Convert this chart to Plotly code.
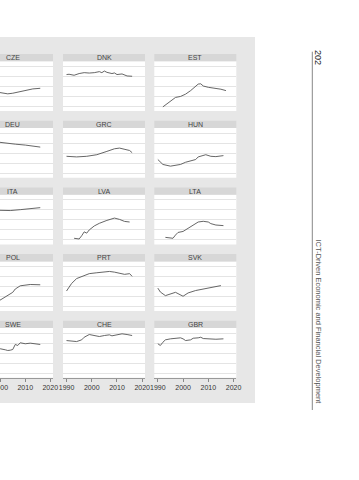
import plotly.graph_objects as go

# ---------------- data ----------------
countries = ["CZE", "DNK", "EST",
             "DEU", "GRC", "HUN",
             "ITA", "LVA", "LTA",
             "POL", "PRT", "SVK",
             "SWE", "CHE", "GBR"]

cze_x = [1999, 2001, 2003, 2005, 2008, 2011, 2013, 2016]
cze_y = [1.42, 1.35, 1.26, 1.32, 1.48, 1.62, 1.75, 1.81]

dnk_x = [1990, 1991, 1993, 1995, 1997, 1999, 2001, 2002, 2003, 2004, 2005, 2006, 2008, 2009, 2010, 2012, 2013, 2014, 2016]
dnk_y = [3.18, 3.21, 3.11, 3.28, 3.37, 3.33, 3.37, 3.40, 3.47, 3.37, 3.53, 3.40, 3.28, 3.34, 3.18, 3.24, 3.14, 3.04, 3.01]

est_x = [1992, 1993, 1995, 1996, 1997, 1999, 2001, 2003, 2005, 2006, 2007, 2008, 2010, 2013, 2015, 2017]
est_y = [-0.04, 0.16, 0.51, 0.74, 0.90, 1.00, 1.23, 1.58, 1.97, 2.23, 2.26, 2.04, 1.91, 1.81, 1.72, 1.58]

deu_x = [1999, 2002, 2006, 2010, 2012, 2016]
deu_y = [3.10, 2.99, 2.89, 2.80, 2.75, 2.60]

grc_x = [1990, 1994, 1998, 2002, 2006, 2009, 2011, 2013, 2015, 2016]
grc_y = [1.68, 1.62, 1.68, 1.84, 2.17, 2.43, 2.50, 2.40, 2.26, 2.04]

hun_x = [1990, 1992, 1995, 1999, 2001, 2005, 2006, 2009, 2011, 2013, 2016]
hun_y = [1.36, 0.87, 0.70, 0.87, 1.09, 1.36, 1.62, 1.84, 1.68, 1.65, 1.75]

ita_x = [1999, 2002, 2004, 2008, 2012, 2016]
ita_y = [2.95, 2.93, 2.92, 3.01, 3.11, 3.21]

lva_x = [1993, 1995, 1996, 1997, 1998, 1999, 2001, 2003, 2006, 2009, 2011, 2013, 2015]
lva_y = [0.16, 0.09, 0.41, 0.80, 0.67, 0.99, 1.39, 1.65, 1.94, 2.17, 2.04, 1.84, 1.78]

lta_x = [1993, 1995, 1996, 1997, 1998, 2000, 2002, 2004, 2005, 2006, 2008, 2010, 2011, 2013, 2016]
lta_y = [0.25, 0.19, 0.16, 0.48, 0.74, 0.84, 1.13, 1.45, 1.62, 1.78, 1.85, 1.78, 1.62, 1.48, 1.42]

pol_x = [1999, 2002, 2005, 2006, 2008, 2012, 2016]
pol_y = [0.50, 0.94, 1.42, 1.75, 2.07, 2.20, 2.17]

prt_x = [1990, 1992, 1994, 1997, 1999, 2002, 2005, 2007, 2009, 2011, 2013, 2015, 2016]
prt_y = [1.55, 2.30, 2.79, 3.11, 3.28, 3.37, 3.43, 3.50, 3.43, 3.33, 3.21, 3.28, 3.01]

svk_x = [1990, 1991, 1993, 1995, 1997, 2000, 2002, 2005, 2009, 2012, 2015]
svk_y = [1.84, 1.45, 1.09, 1.26, 1.42, 1.03, 1.36, 1.60, 1.80, 1.94, 2.09]

swe_x = [1999, 2000, 2002, 2003, 2004, 2005, 2006, 2007, 2008, 2010, 2012, 2014, 2016]
swe_y = [2.45, 2.44, 2.34, 2.27, 2.30, 2.37, 2.87, 2.77, 3.04, 2.94, 3.00, 2.90, 2.87]

che_x = [1990, 1992, 1994, 1996, 1997, 1999, 2001, 2003, 2005, 2007, 2008, 2010, 2012, 2014, 2016]
che_y = [3.26, 3.19, 3.16, 3.33, 3.59, 3.86, 3.76, 3.66, 3.76, 3.83, 3.73, 3.83, 3.93, 3.86, 3.76]

gbr_x = [1990, 1991, 1992, 1993, 1995, 1997, 1999, 2000, 2001, 2003, 2004, 2006, 2007, 2008, 2010, 2013, 2016]
gbr_y = [2.94, 2.77, 3.09, 3.33, 3.43, 3.49, 3.53, 3.43, 3.26, 3.33, 3.49, 3.53, 3.59, 3.46, 3.43, 3.39, 3.43]

series_x = [cze_x, dnk_x, est_x, deu_x, grc_x, hun_x, ita_x, lva_x, lta_x,
            pol_x, prt_x, svk_x, swe_x, che_x, gbr_x]
series_y = [cze_y, dnk_y, est_y, deu_y, grc_y, hun_y, ita_y, lva_y, lta_y,
            pol_y, prt_y, svk_y, swe_y, che_y, gbr_y]

x_ticks = [1990, 2000, 2010, 2020]
y_grid = [0, 1, 2, 3, 4]

page_number = "202"
running_title = "ICT-Driven Economic and Financial Development"

# ---------------- layout helpers ----------------
W, H = 359, 480
def fx(x): return x / W
def fy(y): return 1 - y / H

col_px = [(0, 53), (63, 145), (154.3, 236.3)]
col_full_left = [-28, 63, 154.3]
col_range = [[1999.9, 2021.1], [1988.6, 2021.1], [1988.6, 2021.1]]
row_top0, row_bot0, row_step, strip_h = 61.3, 111.0, 66.7, 7.3
y_range = [-0.45, 4.5]

FONT = "Liberation Sans, Arial, sans-serif"
BG = "#e7e7e7"
STRIP = "#d7d7d7"
GRID = "#e4e4e4"
LINE = "#555555"

fig = go.Figure()
shapes = []
annotations = []

shapes.append(dict(type="rect", xref="paper", yref="paper",
                   x0=fx(-2), x1=fx(255), y0=fy(403), y1=fy(37),
                   fillcolor=BG, line=dict(width=0), layer="below"))

for i, name in enumerate(countries):
    r, c = divmod(i, 3)
    idx = i + 1
    xa = "xaxis" if idx == 1 else f"xaxis{idx}"
    ya = "yaxis" if idx == 1 else f"yaxis{idx}"
    xr = "x" if idx == 1 else f"x{idx}"
    yr = "y" if idx == 1 else f"y{idx}"
    top = row_top0 + r * row_step
    bot = row_bot0 + r * row_step
    x0, x1 = col_px[c]

    shapes.append(dict(type="rect", xref="paper", yref="paper",
                       x0=fx(x0), x1=fx(x1), y0=fy(bot), y1=fy(top),
                       fillcolor="white", line=dict(width=0), layer="below"))
    shapes.append(dict(type="rect", xref="paper", yref="paper",
                       x0=fx(x0), x1=fx(x1), y0=fy(top), y1=fy(top - strip_h),
                       fillcolor=STRIP, line=dict(width=0), layer="below"))
    cx = (col_full_left[c] + x1) / 2
    annotations.append(dict(xref="paper", yref="paper", x=fx(cx), y=fy(top - strip_h / 2),
                            text=name, showarrow=False, xanchor="center", yanchor="middle",
                            font=dict(family=FONT, size=7, color="#444444")))

    bottom_row = (r == 4)
    fig.update_layout(**{
        xa: dict(domain=[fx(x0), fx(x1)], range=col_range[c], anchor=yr,
                 showgrid=False, zeroline=False, automargin=False,
                 tickvals=x_ticks, ticktext=[str(t) for t in x_ticks],
                 showticklabels=bottom_row, ticks="outside" if bottom_row else "",
                 ticklen=3, tickwidth=1, tickcolor="#888888",
                 showline=bottom_row, linecolor="#999999", linewidth=1,
                 ticklabeloverflow="allow",
                 tickfont=dict(family=FONT, size=7, color="#333333"),
                 fixedrange=True),
        ya: dict(domain=[fy(bot), fy(top)], range=y_range, anchor=xr,
                 tickvals=y_grid, showticklabels=False, ticks="", automargin=False,
                 showgrid=True, gridcolor=GRID, gridwidth=1,
                 zeroline=False, showline=False, fixedrange=True),
    })
    fig.add_trace(go.Scatter(x=series_x[i], y=series_y[i], mode="lines",
                             line=dict(color=LINE, width=0.9),
                             xaxis=xr, yaxis=yr, showlegend=False,
                             hoverinfo="skip"))

# page decoration on the right
shapes.append(dict(type="line", xref="paper", yref="paper",
                   x0=fx(312.3), x1=fx(312.3), y0=fy(410), y1=fy(51.7),
                   line=dict(color="#888888", width=1)))
annotations.append(dict(xref="paper", yref="paper", x=fx(317.5), y=fy(57.5),
                        text=page_number, textangle=90, showarrow=False,
                        xanchor="center", yanchor="middle",
                        font=dict(family=FONT, size=9, color="#222222")))
annotations.append(dict(xref="paper", yref="paper", x=fx(318), y=fy(321.5),
                        text=running_title, textangle=90, showarrow=False,
                        xanchor="center", yanchor="middle",
                        font=dict(family=FONT, size=7.5, color="#555555")))

fig.update_layout(width=W, height=H, margin=dict(l=0, r=0, t=0, b=0, autoexpand=False),
                  paper_bgcolor="white", plot_bgcolor="rgba(0,0,0,0)",
                  shapes=shapes, annotations=annotations, showlegend=False)

fig.write_html("out.html", config={"displayModeBar": False},
               default_width="359px", default_height="480px",
               post_script="document.documentElement.style.margin='0';"
                           "document.documentElement.style.overflow='hidden';"
                           "document.body.style.margin='0';"
                           "document.body.style.padding='0';"
                           "document.body.style.overflow='hidden';")
